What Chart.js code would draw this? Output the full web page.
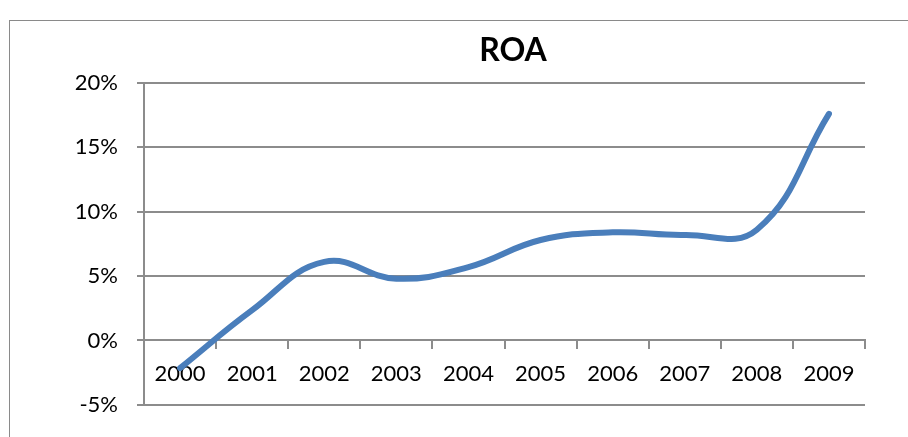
<!DOCTYPE html>
<html>
<head>
<meta charset="utf-8">
<script src="https://cdn.jsdelivr.net/npm/chart.js@4.4.1/dist/chart.umd.min.js"></script>
<style>
  html, body { margin: 0; padding: 0; background: #fff; overflow: hidden; }
  #wrap { position: relative; width: 908px; height: 437px; overflow: hidden; }
  #frame { position: absolute; left: 9px; top: 20px; width: 1000px; height: 500px;
           border-left: 1px solid #8a8a8a; border-top: 1px solid #8a8a8a; }
  #roa { position: absolute; left: 0; top: 0; }
</style>
</head>
<body>
<div id="wrap">
  <div id="frame"></div>
  <canvas id="roa" width="908" height="437"></canvas>
</div>
<script>
    // dados
    const titulo = 'ROA';
    const anos = ['2000', '2001', '2002', '2003', '2004', '2005', '2006', '2007', '2008', '2009'];
    const roa = [-2.15, 2.35, 6.1, 4.8, 5.7, 7.8, 8.4, 8.2, 8.6, 17.6];
    const yMin = -5, yMax = 20, yStep = 5;

    const fonte = "Lato, 'Open Sans', sans-serif";
    const cinza = '#8c8c8c';

    // titulo desenhado a mao, centrado como no original (nao sobre a area do grafico)
    const tituloPlugin = {
        id: 'tituloRoa',
        afterDraw(chart) {
            const c = chart.ctx;
            c.save();
            c.fillStyle = '#000';
            c.font = 'bold 32px ' + fonte;
            c.textAlign = 'center';
            c.textBaseline = 'middle';
            c.fillText(titulo, 513, 51);
            c.restore();
        }
    };

    const ctx = document.getElementById('roa').getContext('2d');
    const grafico = new Chart(ctx, {
        type: 'line',
        data: {
            labels: anos,
            datasets: [{
                label: titulo,
                data: roa,
                borderColor: '#4a7ebb',
                borderWidth: 6,
                borderCapStyle: 'round',
                borderJoinStyle: 'round',
                pointRadius: 0,
                tension: 0.42,
                fill: false
            }]
        },
        options: {
            responsive: false,
            devicePixelRatio: 1,
            animation: false,
            layout: { padding: { left: 0, right: 43, top: 83, bottom: 32 } },
            plugins: {
                legend: { display: false },
                tooltip: { enabled: false },
                title: { display: false }
            },
            scales: {
                x: {
                    position: { y: 0 },
                    offset: true,
                    grid: {
                        drawOnChartArea: false,
                        offset: true,
                        tickLength: 8,
                        color: cinza,
                        lineWidth: 2
                    },
                    border: { color: cinza, width: 2 },
                    ticks: {
                        color: '#000',
                        font: { family: fonte, size: 22 },
                        padding: 12,
                        maxRotation: 0,
                        autoSkip: false
                    }
                },
                y: {
                    min: yMin,
                    max: yMax,
                    afterFit: (s) => { s.width = 144; },
                    grid: {
                        color: cinza,
                        lineWidth: 2,
                        tickLength: 7
                    },
                    border: { color: cinza, width: 2 },
                    ticks: {
                        stepSize: yStep,
                        color: '#000',
                        font: { family: fonte, size: 22 },
                        padding: 19,
                        callback: (v) => v + '%'
                    }
                }
            }
        },
        plugins: [tituloPlugin]
    });
</script>
</body>
</html>
